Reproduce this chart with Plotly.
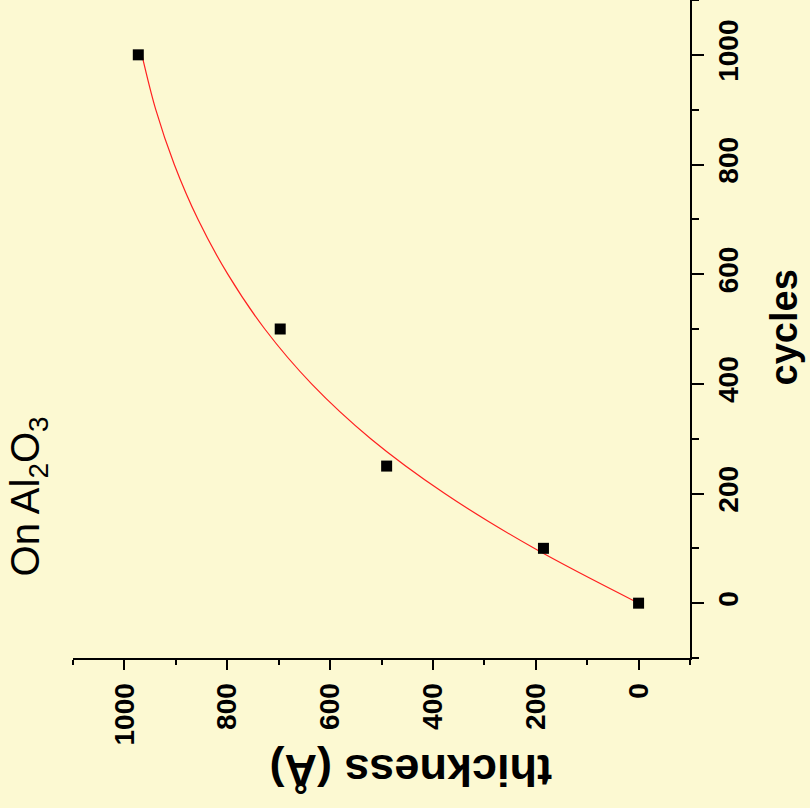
import plotly.graph_objects as go

# Measured film thickness vs. number of ALD cycles
cycles = [0, 100, 250, 500, 1000]
thickness = [0, 185, 490, 697, 973]

# Fitted growth curve (cycles, thickness) sampled along the fit
fit_cycles = [0, 100, 200, 300, 400, 500, 600, 700, 800, 900, 1000]
fit_thickness = [0, 203, 377, 521, 636, 727, 799, 857, 903, 939, 966]

tick_vals = [0, 200, 400, 600, 800, 1000]
tick_text = ["0", "200", "400", "600", "800", "1000"]

bg = "#FCF9D2"
tick_font = dict(family="Liberation Sans, Arial", size=28,
                 color="black", weight="bold")

fig = go.Figure()
fig.add_trace(go.Scatter(
    x=fit_thickness, y=fit_cycles, mode="lines",
    line=dict(color="#FF2020", width=1.2, shape="spline", smoothing=1.0),
    hoverinfo="skip", showlegend=False,
))
fig.add_trace(go.Scatter(
    x=thickness, y=cycles, mode="markers",
    marker=dict(symbol="square", size=11, color="black"),
    showlegend=False,
))

fig.update_layout(
    width=810, height=808,
    margin=dict(l=73, r=120, t=0, b=150),
    paper_bgcolor=bg, plot_bgcolor=bg,
    xaxis=dict(
        range=[1100, -100], showgrid=False, zeroline=False,
        showline=True, linecolor="black", linewidth=2,
        ticks="outside", ticklen=10, tickwidth=2, tickcolor="black",
        tickvals=tick_vals, ticktext=tick_text, tickangle=-90,
        tickfont=tick_font, ticklabelstandoff=2,
        minor=dict(ticks="outside", ticklen=5, tickwidth=2, tickcolor="black",
                   tick0=-100, dtick=100),
    ),
    yaxis=dict(
        range=[-100, 1100], side="right", showgrid=False, zeroline=False,
        showline=True, linecolor="black", linewidth=2,
        ticks="outside", ticklen=12, tickwidth=2, tickcolor="black",
        tickvals=tick_vals, ticktext=tick_text, tickangle=-90,
        tickfont=tick_font, ticklabelstandoff=0,
        minor=dict(ticks="outside", ticklen=7, tickwidth=2, tickcolor="black",
                   tick0=-100, dtick=100),
    ),
    annotations=[
        dict(text="cycles", xref="paper", yref="paper", x=1.153, y=0.503,
             xanchor="center", yanchor="middle", textangle=-90, showarrow=False,
             font=dict(family="Liberation Sans, Arial", size=38, color="black",
                       weight="bold")),
        dict(text="thickness (Å)", xref="paper", yref="paper", x=0.547, y=-0.170,
             xanchor="center", yanchor="middle", textangle=180, showarrow=False,
             font=dict(family="Liberation Sans, Arial", size=45, color="black",
                       weight="bold")),
        dict(text="On Al<sub>2</sub>O<sub>3</sub>", xref="paper", yref="paper",
             x=-0.0724, y=0.246, xanchor="center", yanchor="middle",
             textangle=-90, showarrow=False,
             font=dict(family="Liberation Sans, Arial", size=40, color="black")),
    ],
)

fig.write_html("out.html")
